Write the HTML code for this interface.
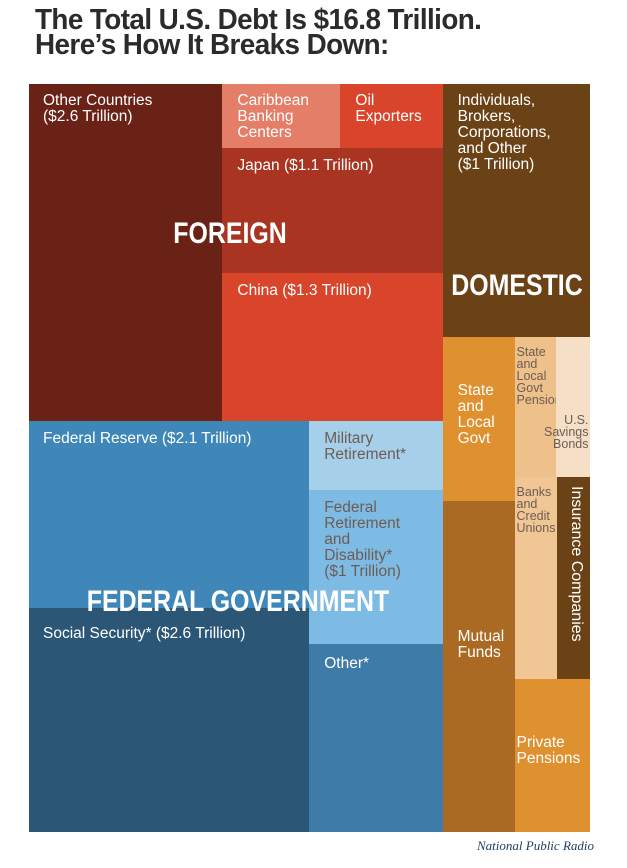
<!DOCTYPE html>
<html><head><meta charset="utf-8">
<style>
body{margin:0;width:627px;height:868px;background:#fff;position:relative;overflow:hidden;font-family:"Liberation Sans",sans-serif}
#title{position:absolute;left:35px;top:8px;font-weight:bold;font-size:29px;line-height:25px;color:#2b2b2b;letter-spacing:-0.6px;transform:scaleX(0.96);transform-origin:0 0;white-space:nowrap}
.cell{position:absolute;box-sizing:border-box;overflow:visible}
.lab{position:absolute;font-size:15.5px;line-height:16px;color:#fff;white-space:nowrap}
.big{position:absolute;font-weight:bold;color:#fff;font-size:30px;white-space:nowrap;transform:translate(-50%,-50%) scaleX(0.83)}
#credit{position:absolute;right:33px;top:838px;font-family:"Liberation Serif",serif;font-style:italic;font-size:13px;color:#1d3d5c}
</style></head><body>
<div id="title">The Total U.S. Debt Is $16.8 Trillion.<br>Here’s How It Breaks Down:</div>
<div id="chart" style="position:absolute;left:29px;top:84px;width:561px;height:748px"></div>
<div class="big" style="left:230px;top:234px">FOREIGN</div>
<div class="big" style="left:517px;top:286px">DOMESTIC</div>
<div class="big" style="left:238px;top:602px">FEDERAL GOVERNMENT</div>
<div id="credit">National Public Radio</div>
<script>
// leaf values (trillions, estimated from areas)
const leafNames = ["other-countries","caribbean","oil-exporters","japan","china","federal-reserve","social-security","military-retirement","federal-retirement","other-federal","individuals","state-local-govt","mutual-funds","state-local-pensions","savings-bonds","banks","insurance","private-pensions"];
const leafValues = [2.6,0.3,0.26,1.1,1.3,2.1,2.5,0.37,0.82,1.0,1.49,0.47,0.95,0.23,0.19,0.34,0.27,0.46];
const leafLabels = ["Other Countries\n($2.6 Trillion)","Caribbean\nBanking\nCenters","Oil\nExporters","Japan ($1.1 Trillion)","China ($1.3 Trillion)","Federal Reserve ($2.1 Trillion)","Social Security* ($2.6 Trillion)","Military\nRetirement*","Federal\nRetirement\nand\nDisability*\n($1 Trillion)","Other*","Individuals,\nBrokers,\nCorporations,\nand Other\n($1 Trillion)","State\nand\nLocal\nGovt","Mutual\nFunds","State\nand\nLocal\nGovt\nPensions","U.S.\nSavings\nBonds","Banks\nand\nCredit\nUnions","Insurance Companies","Private\nPensions"];
const leafColors = ["#6a2216","#e47e68","#d8452b","#a83421","#d8452b","#3f87b8","#2b5676","#a6d0ea","#7ebbe4","#3e7ba9","#6b4216","#df902f","#ab6a24","#eec08a","#f5dfc6","#f0c694","#6b4216","#df902f"];
const dark = {"military-retirement":1,"federal-retirement":1,"state-local-pensions":1,"savings-bonds":1,"banks":1};
const tops = {"mutual-funds":128,"private-pensions":56,"other-federal":12,"state-local-govt":46,"social-security":18};
// tree structure: dir 'x' splits horizontally, 'y' vertically; numbers are leaf indexes
const tree = {dir:'x',c:[
  {dir:'y',c:[
    {dir:'x',c:[0,{dir:'y',c:[{dir:'x',c:[1,2]},3,4]}]},
    {dir:'x',c:[{dir:'y',c:[5,6]},{dir:'y',c:[7,8,9]}]}
  ]},
  {dir:'y',c:[10,{dir:'x',c:[{dir:'y',c:[11,12]},{dir:'y',c:[{dir:'x',c:[13,14]},{dir:'x',c:[15,16]},17]}]}]}
]};
function sum(n){return typeof n==='number'?leafValues[n]:n.c.reduce((a,b)=>a+sum(b),0);}
const chart=document.getElementById('chart');
function layout(n,x,y,w,h){
  if(typeof n==='number'){draw(n,x,y,w,h);return;}
  const t=sum(n);let off=0;
  n.c.forEach(ch=>{const f=sum(ch)/t;
    if(n.dir==='x'){layout(ch,x+off,y,w*f,h);off+=w*f;}
    else{layout(ch,x,y+off,w,h*f);off+=h*f;}});
}
function draw(i,x,y,w,h){
  const nm=leafNames[i];
  const d=document.createElement('div');d.className='cell';
  
  
  d.style.cssText=`left:${x}px;top:${y}px;width:${w+0.5}px;height:${h+0.5}px;background:${leafColors[i]}`;
  const l=document.createElement('div');l.className='lab';
  
  
  l.innerHTML=leafLabels[i].replace(/\n/g,'<br>');
  if(dark[nm])l.style.color='#6d5c55';
  const small=['state-local-pensions','savings-bonds','banks'].includes(nm);
  if(small){l.style.fontSize='12.5px';l.style.lineHeight='12px';}
  if(nm==='savings-bonds'){l.style.right='2px';l.style.top='77px';l.style.textAlign='right';}
  else if(nm==='insurance'){l.style.left='27px';l.style.top='9px';l.style.transform='rotate(90deg)';l.style.transformOrigin='0 0';l.style.fontSize='16px';}
  else {
    l.style.left=(x<5?14:((w<50||nm==='private-pensions')?2:15))+'px';
    l.style.top=(small?9:(nm in tops?tops[nm]:(y<5?9:10)))+'px';
  }
  d.appendChild(l);chart.appendChild(d);
}
layout(tree,0,0,561,748);
</script>
</body></html>
